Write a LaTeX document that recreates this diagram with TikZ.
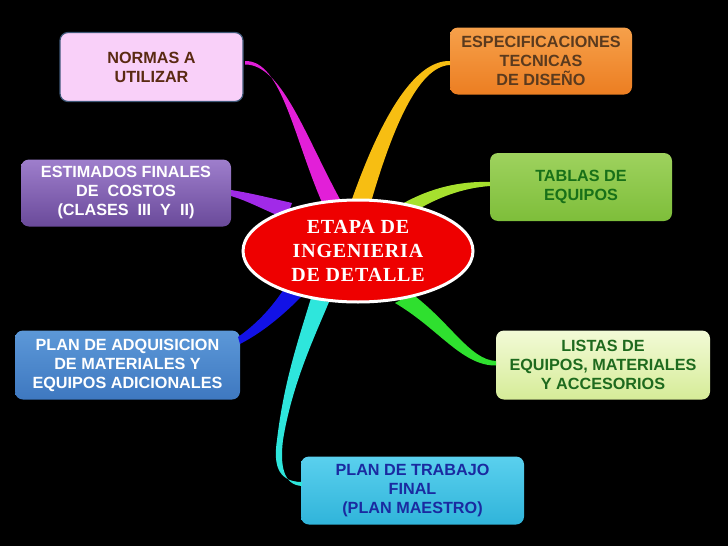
\documentclass[tikz,border=0pt]{standalone}
\usepackage{fontspec}
\setmainfont{Liberation Sans}
\newfontfamily\serifb{Liberation Serif}[LetterSpace=4]
\usetikzlibrary{shapes.geometric}
\definecolor{magb}{HTML}{E21FD8}
\definecolor{purb}{HTML}{A12AE8}
\definecolor{yelb}{HTML}{F7BE12}
\definecolor{lgrb}{HTML}{A6E02E}
\definecolor{blub}{HTML}{1212E6}
\definecolor{cyab}{HTML}{2EE6DC}
\definecolor{grnb}{HTML}{2FE02F}
\definecolor{normfill}{HTML}{F9D0F9}
\definecolor{normdraw}{HTML}{3E5878}
\definecolor{normtext}{HTML}{5A2A12}
\definecolor{esttop}{HTML}{9E7ECC}
\definecolor{estbot}{HTML}{6A4A9A}
\definecolor{esptop}{HTML}{F6A04A}
\definecolor{espbot}{HTML}{EC7E22}
\definecolor{esptext}{HTML}{5A3A1E}
\definecolor{tabtop}{HTML}{9ED25E}
\definecolor{tabbot}{HTML}{7EBE3A}
\definecolor{tabtext}{HTML}{187018}
\definecolor{adqtop}{HTML}{5C98D8}
\definecolor{adqbot}{HTML}{3E78C0}
\definecolor{listop}{HTML}{F2FAD6}
\definecolor{lisbot}{HTML}{D6EC98}
\definecolor{listext}{HTML}{1E6A1E}
\definecolor{platop}{HTML}{5AD0EE}
\definecolor{plabot}{HTML}{30B4DA}
\definecolor{platext}{HTML}{1A2AA0}
\definecolor{ctrfill}{HTML}{EE0000}
\tikzset{
  box/.style={rounded corners=8pt, inner sep=0pt, align=center,
    font=\fontsize{16.2}{19}\selectfont\bfseries},
}
\begin{document}
\begin{tikzpicture}[x=1pt,y=-1pt]
\fill[black] (0,0) rectangle (728,546);
\useasboundingbox (0,0) rectangle (728,546);
% nodes (boxes)
\node[box, minimum width=183pt, minimum height=69pt, fill=normfill, draw=normdraw, line width=1.2pt, text=normtext]
  (norm) at (151.5,67) {NORMAS A\\UTILIZAR};
\node[box, minimum width=210pt, minimum height=67pt, top color=esttop, bottom color=estbot, text=white]
  (est) at (126,193) {ESTIMADOS FINALES\\DE\ \ COSTOS\\(CLASES\ \ III\ \ Y\ \ II)};
\node[box, minimum width=182pt, minimum height=67pt, top color=esptop, bottom color=espbot, text=esptext]
  (esp) at (541,61) {ESPECIFICACIONES\\TECNICAS\\DE DISEÑO};
\node[box, minimum width=182pt, minimum height=68pt, top color=tabtop, bottom color=tabbot, text=tabtext]
  (tab) at (581,187) {TABLAS DE\\EQUIPOS};
\node[box, minimum width=225pt, minimum height=69pt, top color=adqtop, bottom color=adqbot, text=white]
  (adq) at (127.5,365) {PLAN DE ADQUISICION\\DE MATERIALES Y\\EQUIPOS ADICIONALES};
\node[box, minimum width=214pt, minimum height=69pt, top color=listop, bottom color=lisbot, text=listext]
  (lis) at (603,365) {LISTAS DE\\EQUIPOS, MATERIALES\\Y ACCESORIOS};
\node[box, minimum width=223pt, minimum height=68pt, top color=platop, bottom color=plabot, text=platext]
  (pla) at (412.5,490.5) {PLAN DE TRABAJO\\FINAL\\(PLAN MAESTRO)};
% tapered branches
\fill[magb] (245,61) .. controls (282,60) and (294,140) .. (324,207) -- (342,203) .. controls (306,138) and (282,64) .. (245,64.5) -- cycle;
\fill[purb] (231,190) .. controls (250,193) and (266,197) .. (292,203) -- (286,219) .. controls (262,209) and (248,201) .. (231,196) -- cycle;
\fill[yelb] (450,61) .. controls (412,60) and (378,125) .. (351,202) -- (371,202) .. controls (392,130) and (418,66) .. (450,65) -- cycle;
\fill[lgrb] (490,182) .. controls (460,181) and (430,188) .. (402,204) -- (412,213) .. controls (436,198) and (462,188) .. (490,186) -- cycle;
\fill[blub] (238,337) .. controls (255,325) and (270,310) .. (284,289) -- (301,297) .. controls (285,313) and (265,331) .. (240,344) -- cycle;
\fill[cyab] (302,482) .. controls (275,482) and (274,460) .. (277,440) .. controls (284,380) and (300,335) .. (311,298) -- (329,302) .. controls (313,340) and (292,385) .. (283,440) .. controls (280,465) and (283,485) .. (302,486) -- cycle;
\fill[grnb] (496,361) .. controls (470,360) and (450,322) .. (412,294) -- (395,303) .. controls (438,328) and (462,366) .. (496,365.5) -- cycle;
% center
\node[ellipse, minimum width=230pt, minimum height=102pt, fill=ctrfill, draw=white, line width=3pt, inner sep=0pt, align=center, text=white,
  font=\serifb\fontsize{20}{24}\selectfont\bfseries] (ctr) at (358,251) {ETAPA DE\\INGENIERIA\\DE DETALLE};
\end{tikzpicture}
\end{document}
